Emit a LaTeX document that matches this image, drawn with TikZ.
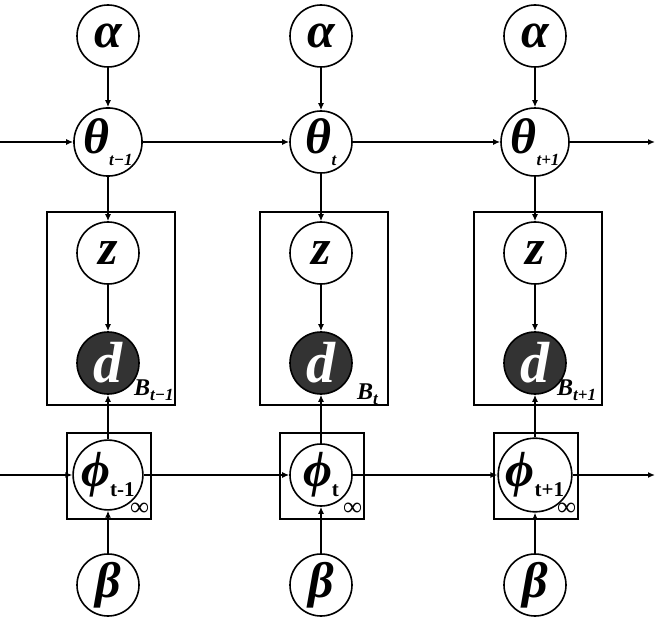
\documentclass[tikz,border=0pt]{standalone}
\usepackage{fontspec}
\setmainfont{Liberation Serif}
\usetikzlibrary{arrows.meta}
\newcommand{\subtext}[2]{\raisebox{#1}{\fontsize{17}{17}\selectfont #2}}
\newcommand{\subbig}[2]{\raisebox{#1}{\fontsize{21}{21}\selectfont #2}}
\begin{document}
\begin{tikzpicture}[x=1pt,y=-1pt,
  var/.style={circle,draw,line width=1.6pt,minimum size=62pt,inner sep=0pt,
    font=\bfseries\itshape\fontsize{50}{50}\selectfont},
  obs/.style={var,fill=black!80,text=white,font=\bfseries\itshape\fontsize{58}{58}\selectfont},
  plate/.style={draw,line width=1.6pt},
  arr/.style={-{Latex[length=7pt,width=6pt]},line width=1.4pt},
  platelabel/.style={anchor=base west,inner sep=0pt,font=\bfseries\itshape\fontsize{24}{24}\selectfont},
  inflabel/.style={anchor=south east,inner sep=0pt,font=\bfseries\fontsize{26}{26}\selectfont}]
\useasboundingbox (0,0) rectangle (655,617);

% plates
\foreach \c in {108,321,535}{
  \draw[plate] (\c-61,212) rectangle (\c+67,405);
  \draw[plate] (\c-41,433) rectangle (\c+43,519);
}
% nodes
\node[var] (a1) at (108,36) {α};
\node[var] (a2) at (321,36) {α};
\node[var] (a3) at (535,36) {α};
\node[var] (t1) at (108,142) {θ\subtext{-12pt}{t−1}};
\node[var] (t2) at (321,142) {θ\subtext{-12pt}{t}};
\node[var] (t3) at (535,142) {θ\subtext{-12pt}{t+1}};
\node[var] (z1) at (108,253) {z};
\node[var] (z2) at (321,253) {z};
\node[var] (z3) at (535,253) {z};
\node[obs] (d1) at (108,363) {d};
\node[obs] (d2) at (321,363) {d};
\node[obs] (d3) at (535,363) {d};
\node[var] (f1) at (108,475) {ϕ\subbig{-10pt}{\upshape t-1}};
\node[var] (f2) at (321,475) {ϕ\subbig{-10pt}{\upshape t}};
\node[var] (f3) at (535,475) {ϕ\subbig{-10pt}{\upshape t+1}};
\node[var] (b1) at (108,585) {β};
\node[var] (b2) at (321,585) {β};
\node[var] (b3) at (535,585) {β};

% plate labels
\node[platelabel] (B1) at (134,395) {B\subtext{-5pt}{t−1}};
\node[platelabel] (B2) at (357,399) {B\subtext{-5pt}{t}};
\node[platelabel] (B3) at (557,395) {B\subtext{-5pt}{t+1}};
\node[inflabel] (i1) at (149,516) {∞};
\node[inflabel] (i2) at (362,516) {∞};
\node[inflabel] (i3) at (576,516) {∞};

% free ends
\coordinate (tl) at (0,142);
\coordinate (tr) at (655,142);
\coordinate (fl) at (0,475);
\coordinate (fr) at (655,475);

% arrows
\foreach \n in {1,2,3}{
  \draw[arr] (a\n) -- (t\n);
  \draw[arr] (t\n) -- (z\n);
  \draw[arr] (z\n) -- (d\n);
  \draw[arr] (f\n) -- (d\n);
  \draw[arr] (b\n) -- (f\n);
}
\draw[arr] (tl) -- (t1);
\draw[arr] (t1) -- (t2);
\draw[arr] (t2) -- (t3);
\draw[arr] (t3) -- (tr);
\draw[arr] (fl) -- (f1);
\draw[arr] (f1) -- (f2);
\draw[arr] (f2) -- (f3);
\draw[arr] (f3) -- (fr);
\end{tikzpicture}
\end{document}
